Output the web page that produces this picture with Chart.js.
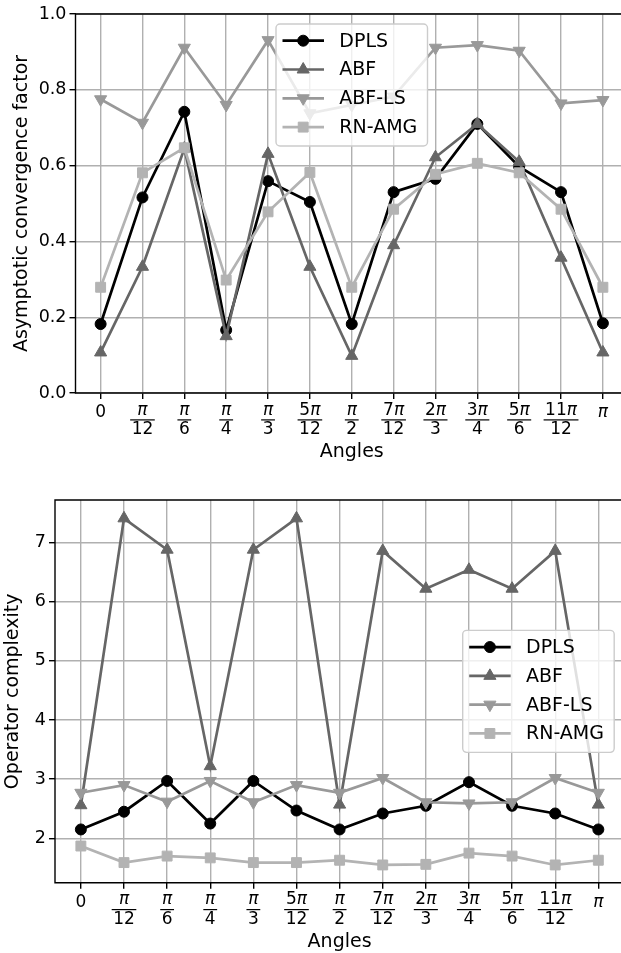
<!DOCTYPE html>
<html lang="en">
<head>
<meta charset="UTF-8">
<title>Convergence factor and operator complexity</title>
<script src="https://cdn.jsdelivr.net/npm/chart.js"></script>
<style>
  html, body { margin: 0; padding: 0; background: #fff; overflow: hidden; }
  .wrap { position: relative; width: 621px; height: 953px; overflow: hidden; }
  .panel { position: absolute; left: 0; width: 640px; }
  #top { top: 0; height: 475px; }
  #bottom { top: 475px; height: 478px; }
</style>
</head>
<body>
<div class="wrap">
  <div class="panel" id="top"><canvas id="convChart"></canvas></div>
  <div class="panel" id="bottom"><canvas id="opChart"></canvas></div>
</div>
<script>
// angles 0 .. pi, written as fraction labels
const tickNum = ['0', 'π', 'π', 'π', 'π', '5π', 'π', '7π', '2π', '3π', '5π', '11π', 'π'];
const tickDen = ['', '12', '6', '4', '3', '12', '2', '12', '3', '4', '6', '12', ''];
const seriesNames = ['DPLS', 'ABF', 'ABF-LS', 'RN-AMG'];

// asymptotic convergence factor
const convDPLS  = [0.182, 0.516, 0.742, 0.166, 0.559, 0.504, 0.182, 0.530, 0.565, 0.710, 0.597, 0.530, 0.184];
const convABF   = [0.107, 0.333, 0.645, 0.150, 0.631, 0.333, 0.098, 0.390, 0.622, 0.710, 0.610, 0.357, 0.107];
const convABFLS = [0.775, 0.713, 0.911, 0.760, 0.931, 0.738, 0.760, 0.782, 0.911, 0.918, 0.903, 0.764, 0.773];
const convRN    = [0.279, 0.581, 0.647, 0.298, 0.478, 0.582, 0.279, 0.485, 0.577, 0.606, 0.581, 0.485, 0.279];
const convTicks = [0, 0.2, 0.4, 0.6, 0.8, 1.0];

// operator complexity
const opDPLS  = [2.15, 2.45, 2.97, 2.25, 2.97, 2.47, 2.15, 2.42, 2.55, 2.95, 2.55, 2.42, 2.15];
const opABF   = [2.56, 7.41, 6.88, 3.22, 6.88, 7.41, 2.57, 6.86, 6.22, 6.54, 6.22, 6.86, 2.57];
const opABFLS = [2.77, 2.90, 2.62, 2.97, 2.61, 2.90, 2.77, 3.02, 2.61, 2.59, 2.61, 3.02, 2.77];
const opRN    = [1.87, 1.59, 1.70, 1.67, 1.59, 1.59, 1.63, 1.55, 1.56, 1.75, 1.70, 1.55, 1.63];
const opTicks = [2, 3, 4, 5, 6, 7];

// styles
const colors = ['#000000', '#666666', '#999999', '#b3b3b3'];
const markers = [
  { pointStyle: 'circle', radius: 5.5, rotation: 0 },
  { pointStyle: 'triangle', radius: 7, rotation: 0 },
  { pointStyle: 'triangle', radius: 7, rotation: 180 },
  { pointStyle: 'rect', radius: 7, rotation: 0 }
];
const FONT = '"DejaVu Sans", sans-serif';
Chart.defaults.font.family = FONT;
Chart.defaults.color = '#000';

function mathParts(s) {
  return [...s].map(ch => ({ ch, font: (ch === 'π' ? 'italic ' : '') + '17px ' + FONT }));
}
function mathWidth(ctx, s) {
  return mathParts(s).reduce((w, p) => { ctx.font = p.font; return w + ctx.measureText(p.ch).width; }, 0);
}
function drawMath(ctx, s, cx, y) {
  let x = cx - mathWidth(ctx, s) / 2;
  ctx.textAlign = 'left';
  for (const p of mathParts(s)) {
    ctx.font = p.font;
    ctx.fillText(p.ch, x, y);
    x += ctx.measureText(p.ch).width;
  }
}

function drawLegend(chart, loc) {
  const ctx = chart.ctx, a = chart.chartArea;
  const w = 151.5, h = 122;
  let left, top;
  if (loc === 'upper center') { left = (a.left + a.right) / 2 - w / 2; top = a.top + 10; }
  else { left = a.right - 10 - w; top = (a.top + a.bottom) / 2 - h / 2; }
  ctx.fillStyle = 'rgba(255,255,255,0.8)';
  ctx.strokeStyle = '#cccccc';
  ctx.lineWidth = 1.4;
  ctx.beginPath();
  ctx.roundRect(left, top, w, h, 4);
  ctx.fill();
  ctx.stroke();
  seriesNames.forEach((name, i) => {
    const y = top + 16.7 + i * 28.8;
    ctx.strokeStyle = colors[i];
    ctx.fillStyle = colors[i];
    ctx.lineWidth = 2.7;
    ctx.beginPath();
    ctx.moveTo(left + 6.5, y);
    ctx.lineTo(left + 48, y);
    ctx.stroke();
    ctx.lineWidth = 1;
    Chart.helpers.drawPoint(ctx, {
      pointStyle: markers[i].pointStyle, radius: markers[i].radius,
      rotation: markers[i].rotation, borderWidth: 1
    }, left + 27.2, y);
    ctx.fillStyle = '#000';
    ctx.font = '19px ' + FONT;
    ctx.textAlign = 'left';
    ctx.textBaseline = 'middle';
    ctx.fillText(name, left + 63.3, y + 1);
  });
}

const axisDecor = {
  id: 'axisDecor',
  afterDatasetsDraw(chart, args, opts) {
    const { ctx, chartArea: a, scales: { x } } = chart;
    ctx.save();
    // spines
    ctx.strokeStyle = '#000';
    ctx.lineWidth = 1.4;
    ctx.beginPath();
    ctx.moveTo(a.left, a.top);
    ctx.lineTo(a.right, a.top);
    ctx.lineTo(a.right, a.bottom);
    ctx.lineTo(a.left, a.bottom);
    ctx.closePath();
    ctx.stroke();
    // x tick labels
    ctx.fillStyle = '#000';
    ctx.textBaseline = 'alphabetic';
    tickNum.forEach((num, i) => {
      const px = x.getPixelForValue(i);
      const den = tickDen[i];
      if (!den) {
        drawMath(ctx, num, px, a.bottom + 24);
      } else {
        const bar = Math.max(mathWidth(ctx, num), mathWidth(ctx, den)) + 3;
        drawMath(ctx, num, px, a.bottom + 21.5);
        ctx.fillRect(px - bar / 2, a.bottom + 26.3, bar, 1.2);
        drawMath(ctx, den, px, a.bottom + 41);
      }
    });
    ctx.font = '19px ' + FONT;
    ctx.textAlign = 'center';
    ctx.fillText(opts.xTitle, (a.left + a.right) / 2, a.bottom + 64);
    drawLegend(chart, opts.legendLoc);
    ctx.restore();
  }
};

const gridOpts = { color: '#b0b0b0', lineWidth: 1.4, tickLength: 6, tickColor: '#000', tickWidth: 1.4 };

function buildDatasets(values) {
  return values.map((vals, i) => ({
    label: seriesNames[i],
    data: vals.map((v, j) => ({ x: j, y: v })),
    borderColor: colors[i],
    backgroundColor: colors[i],
    pointBackgroundColor: colors[i],
    pointBorderColor: colors[i],
    borderWidth: 2.7,
    pointStyle: markers[i].pointStyle,
    pointRadius: markers[i].radius,
    pointHoverRadius: markers[i].radius,
    pointRotation: markers[i].rotation,
    pointBorderWidth: 1,
    tension: 0,
    fill: false,
    order: values.length - i
  }));
}

function makeChart(id, values, o) {
  return new Chart(document.getElementById(id), {
    type: 'line',
    data: { datasets: buildDatasets(values) },
    options: {
      responsive: true,
      maintainAspectRatio: false,
      animation: false,
      layout: { padding: { left: 0, right: o.padRight, top: o.padTop, bottom: 0 } },
      plugins: {
        legend: { display: false },
        tooltip: { enabled: false },
        axisDecor: { legendLoc: o.legendLoc, xTitle: 'Angles' }
      },
      scales: {
        x: {
          type: 'linear', min: -0.6, max: 12.6,
          afterBuildTicks: s => { s.ticks = tickNum.map((_, i) => ({ value: i })); },
          afterFit: s => { s.height = o.xHeight; },
          ticks: { display: false },
          grid: gridOpts,
          border: { display: false }
        },
        y: {
          type: 'linear', min: o.yMin, max: o.yMax,
          afterBuildTicks: s => { s.ticks = o.yTicks.map(v => ({ value: v })); },
          afterFit: s => { s.width = o.yWidth; },
          ticks: { padding: 3, font: { size: 17.5 }, color: '#000', callback: o.yFormat },
          grid: gridOpts,
          border: { display: false },
          title: { display: true, text: o.yTitle, font: { size: 19 }, color: '#000', padding: { top: o.titlePad, bottom: 0 } }
        }
      }
    },
    plugins: [axisDecor]
  });
}

makeChart('convChart', [convDPLS, convABF, convABFLS, convRN], {
  padTop: 14, padRight: 12, xHeight: 82, yWidth: 75.5,
  yMin: 0, yMax: 1.0, yTicks: convTicks, yFormat: v => v.toFixed(1),
  yTitle: 'Asymptotic convergence factor', titlePad: 10.9, legendLoc: 'upper center'
});

makeChart('opChart', [opDPLS, opABF, opABFLS, opRN], {
  padTop: 25, padRight: 15.8, xHeight: 70.3, yWidth: 55,
  yMin: 1.25, yMax: 7.72, yTicks: opTicks, yFormat: v => String(v),
  yTitle: 'Operator complexity', titlePad: 2, legendLoc: 'center right'
});
</script>
</body>
</html>
